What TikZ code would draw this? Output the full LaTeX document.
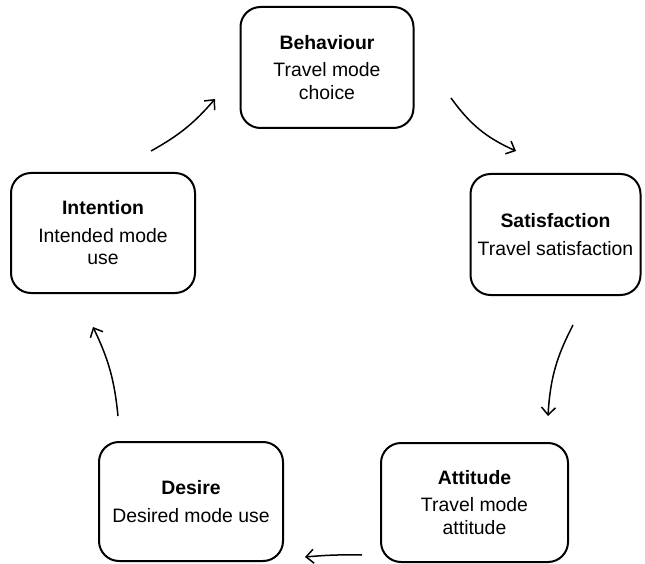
\documentclass[tikz,border=0pt]{standalone}
\usepackage{fontspec}
\setmainfont{Liberation Sans}
\usetikzlibrary{arrows.meta}
\begin{document}
\begin{tikzpicture}[x=1pt,y=-1pt,
  box/.style={draw=black, line width=2pt, rounded corners=20pt, align=center,
    font=\fontsize{19.4}{22.5}\selectfont, inner sep=0pt},
  flow/.style={line width=1.5pt, -{Straight Barb[length=7.5pt,width=14pt,line width=1.5pt]}}]
\useasboundingbox (0,0) rectangle (645,564);
\node[box, minimum width=173pt, minimum height=121pt] (beh) at (327,67.5)
  {\textbf{Behaviour}\\[5pt]Travel mode\\choice};
\node[box, minimum width=170pt, minimum height=121pt] (sat) at (555.5,234.5)
  {\textbf{Satisfaction}\\[5pt]Travel satisfaction};
\node[box, minimum width=187pt, minimum height=119pt] (att) at (474.5,502.5)
  {\textbf{Attitude}\\[5pt]Travel mode\\attitude};
\node[box, minimum width=184pt, minimum height=119pt] (des) at (191,501.5)
  {\textbf{Desire}\\[5pt]Desired mode use};
\node[box, minimum width=184pt, minimum height=120pt] (int) at (103,233)
  {\textbf{Intention}\\[5pt]Intended mode\\use};
\coordinate (a1s) at (151,151); \coordinate (a1e) at (215,99);
\coordinate (a2s) at (451,98);  \coordinate (a2e) at (516,151);
\coordinate (a3s) at (573,325); \coordinate (a3e) at (548,416);
\coordinate (a4s) at (362,555); \coordinate (a4e) at (305,557);
\coordinate (a5s) at (118,416); \coordinate (a5e) at (93,327);
\draw[flow] (a1s) to[bend right=10] (a1e);
\draw[flow] (a2s) to[bend right=15] (a2e);
\draw[flow] (a3s) to[bend right=12] (a3e);
\draw[flow] (a4s) to[bend right=3] (a4e);
\draw[flow] (a5s) to[bend right=10] (a5e);
\end{tikzpicture}
\end{document}
